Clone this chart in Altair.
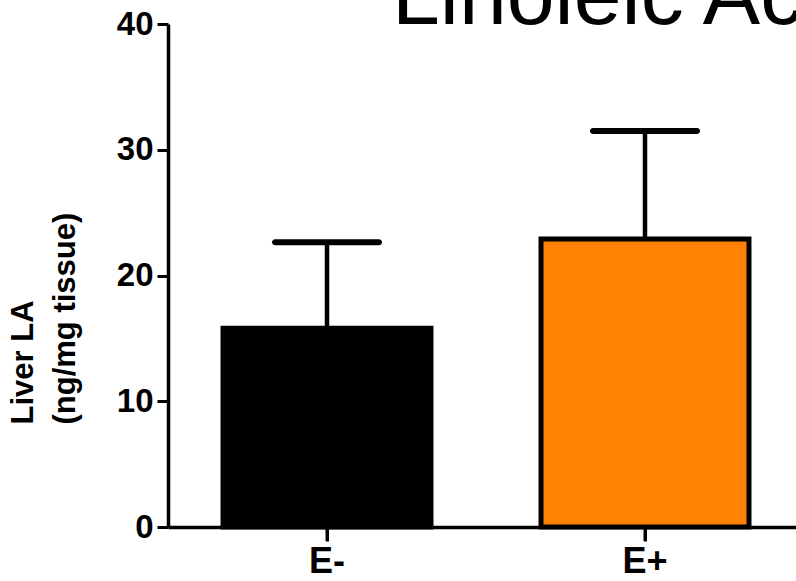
import altair as alt
import pandas as pd

# Group labels, means and standard errors (ng/mg tissue)
groups = ["E-", "E+"]
means = [15.8, 22.9]
sems = [6.85, 8.6]
fills = ["#000000", "#ff8205"]

title_text = "Linoleic Acid"
y_title = ["Liver LA", "(ng/mg tissue)"]
y_ticks = [0, 10, 20, 30, 40]

df = pd.DataFrame({"group": groups, "mean": means, "sem": sems, "fill": fills})
df["upper"] = df["mean"] + df["sem"]

tick_font = "Liberation Sans Narrow, Liberation Sans, Arial, sans-serif"
text_font = "Liberation Sans, Arial, sans-serif"

PLOT_H = 503
X_TICK_LEN = 14

x_axis = alt.Axis(
    title=None,
    labelAngle=0,
    ticks=True,
    tickSize=X_TICK_LEN,
    tickWidth=3,
    tickColor="#000000",
    tickOpacity=1,
    tickBand="center",
    bandPosition=0.5,
    labelPadding=3,
    labelFontSize=36,
    zindex=1,
)
x_scale = alt.Scale(range=[0, 636], paddingInner=0.346, paddingOuter=0.173)
x_enc = alt.X("group:N", sort=groups, scale=x_scale, axis=x_axis)

y_scale = alt.Scale(domain=[0, 40], nice=False, zero=True)

base = alt.Chart(df)

bars = base.mark_bar(stroke="black", strokeWidth=5).encode(
    x=x_enc,
    y=alt.Y(
        "mean:Q",
        scale=y_scale,
        axis=alt.Axis(
            values=y_ticks,
            title=y_title,
            titleFont=text_font,
            titleFontSize=31,
            titleFontWeight="bold",
            titleColor="black",
            titleAngle=270,
            titleAlign="left",
            titleBaseline="alphabetic",
            titleLineHeight=42,
            titleLimit=1000,
            titleX=-136,
            titleY=400,
            tickSize=11,
            labelPadding=4,
            labelFontSize=33,
            zindex=1,
        ),
    ),
    fill=alt.Fill("fill:N", scale=None),
)

stems = base.mark_rule(color="black", strokeWidth=4.5).encode(
    x=x_enc,
    y=alt.Y("mean:Q", scale=y_scale),
    y2="upper:Q",
)

caps = base.mark_tick(
    color="black", opacity=1, thickness=6, size=110, cornerRadius=3
).encode(
    x=x_enc,
    y=alt.Y("upper:Q", scale=y_scale),
)

# category tick marks hanging below the x axis line at each group centre
x_ticks = base.mark_rule(color="black", strokeWidth=3).encode(
    x=x_enc,
    y=alt.value(PLOT_H),
    y2=alt.value(PLOT_H + X_TICK_LEN),
)

title_layer = alt.Chart(pd.DataFrame({"t": [title_text]})).mark_text(
    font=text_font,
    fontSize=86,
    align="left",
    baseline="alphabetic",
    color="black",
).encode(
    text="t:N",
    x=alt.value(224),
    y=alt.value(0),
)

chart = (
    alt.layer(stems, bars, caps, x_ticks, title_layer)
    .properties(
        width=628,
        height=PLOT_H,
        autosize=alt.AutoSizeParams(type="none"),
        padding={"left": 168, "top": 24, "right": 0, "bottom": 54},
        background="white",
    )
    .configure_view(stroke=None)
    .configure_axis(
        grid=False,
        domainColor="black",
        domainWidth=3.5,
        tickColor="black",
        tickWidth=3,
        labelFont=tick_font,
        labelFontWeight="bold",
        labelColor="black",
    )
)

chart.save("out.html", embed_options={"renderer": "svg", "actions": False})
